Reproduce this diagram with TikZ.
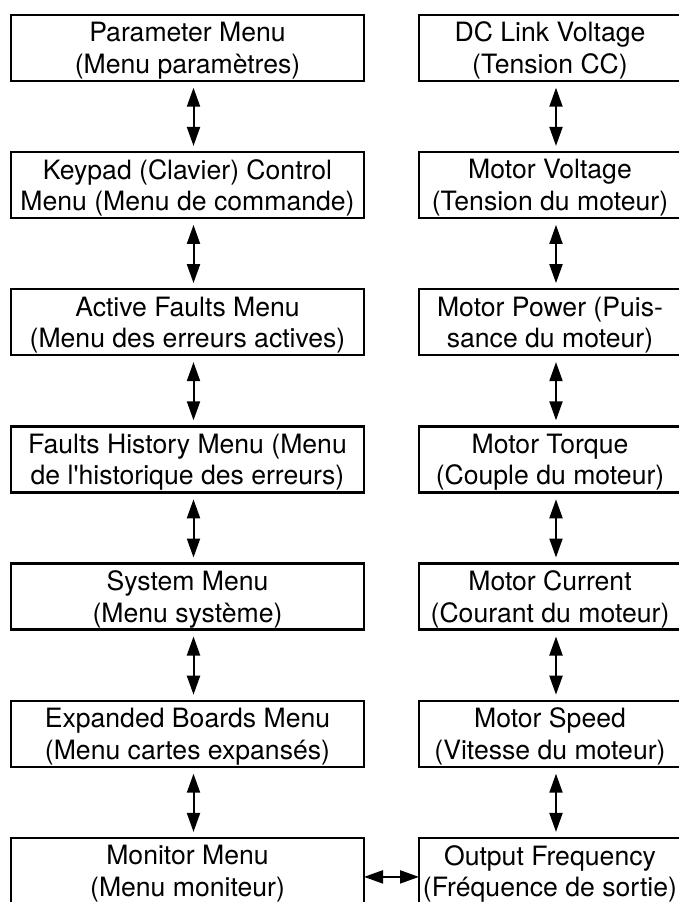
\documentclass[tikz,border=0pt]{standalone}
\usepackage{fontspec}
\setmainfont{TeX Gyre Heros}
\usetikzlibrary{arrows.meta,positioning}

\begin{document}
\begin{tikzpicture}[
  x=0.5pt, y=-0.5pt,
  font=\fontsize{13.3pt}{15.75pt}\selectfont,
  node distance=35.6pt,
  box/.style={draw, line width=1.2pt, align=center, inner sep=0pt, outer sep=0pt,
              minimum height=33pt, text depth=0pt},
  lbox/.style={box, minimum width=176.5pt},
  rbox/.style={box, minimum width=131pt},
  arr/.style={{Triangle[length=9.5pt,width=6.5pt]}-{Triangle[length=9.5pt,width=6.5pt]},
              line width=1pt, shorten <=3.5pt, shorten >=3pt}
]
\useasboundingbox (0,0) rectangle (679,902);
\node[lbox] (param) at (187.5,47.7) {Parameter Menu\\(Menu paramètres)};
\node[lbox, below=of param] (keypad) {Keypad (Clavier) Control\\Menu (Menu de commande)};
\node[lbox, below=of keypad] (faults) {Active Faults Menu\\(Menu des erreurs actives)};
\node[lbox, below=of faults] (hist) {Faults History Menu (Menu\\de l\textquotesingle historique des erreurs)};
\node[lbox, below=of hist] (sys) {System Menu\\(Menu système)};
\node[lbox, below=of sys] (boards) {Expanded Boards Menu\\(Menu cartes expansés)};
\node[lbox, below=of boards] (monitor) {Monitor Menu\\(Menu moniteur)};
\node[rbox, right=27.5pt of param] (dclink) {DC Link Voltage\\(Tension CC)};
\node[rbox, below=of dclink] (mvolt) {Motor Voltage\\(Tension du moteur)};
\node[rbox, below=of mvolt] (mpower) {Motor Power (Puis-\\sance du moteur)};
\node[rbox, below=of mpower] (mtorque) {Motor Torque\\(Couple du moteur)};
\node[rbox, below=of mtorque] (mcurrent) {Motor Current\\(Courant du moteur)};
\node[rbox, below=of mcurrent] (mspeed) {Motor Speed\\(Vitesse du moteur)};
\node[rbox, below=of mspeed] (freq) {Output Frequency\\(Fréquence de sortie)};
\draw[arr] ([xshift=3pt]param.south) -- ([xshift=3pt]keypad.north);
\draw[arr] ([xshift=3pt]keypad.south) -- ([xshift=3pt]faults.north);
\draw[arr] ([xshift=3pt]faults.south) -- ([xshift=3pt]hist.north);
\draw[arr] ([xshift=3pt]hist.south) -- ([xshift=3pt]sys.north);
\draw[arr] ([xshift=3pt]sys.south) -- ([xshift=3pt]boards.north);
\draw[arr] ([xshift=3pt]boards.south) -- ([xshift=3pt]monitor.north);
\draw[arr] ([xshift=3pt]dclink.south) -- ([xshift=3pt]mvolt.north);
\draw[arr] ([xshift=3pt]mvolt.south) -- ([xshift=3pt]mpower.north);
\draw[arr] ([xshift=3pt]mpower.south) -- ([xshift=3pt]mtorque.north);
\draw[arr] ([xshift=3pt]mtorque.south) -- ([xshift=3pt]mcurrent.north);
\draw[arr] ([xshift=3pt]mcurrent.south) -- ([xshift=3pt]mspeed.north);
\draw[arr] ([xshift=3pt]mspeed.south) -- ([xshift=3pt]freq.north);
\draw[arr, shorten <=0pt, shorten >=0pt] ([yshift=-3pt]monitor.east) -- ([yshift=-3pt]freq.west);
\end{tikzpicture}
\end{document}
